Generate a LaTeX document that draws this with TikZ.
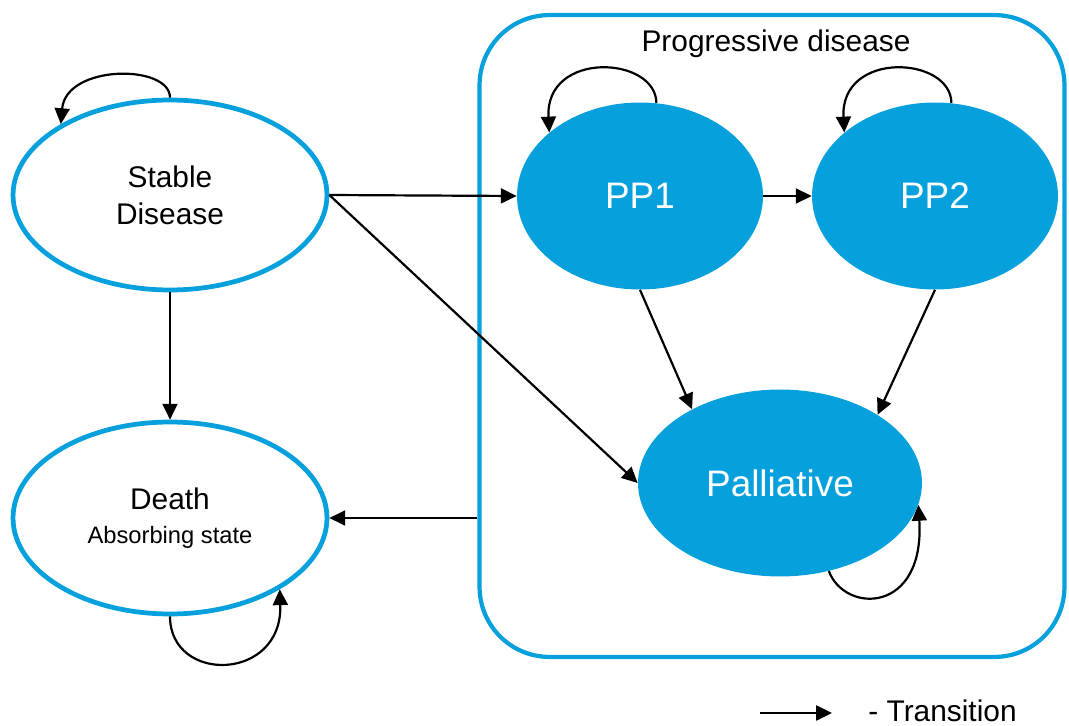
\documentclass[tikz,border=0pt]{standalone}
\usepackage{fontspec}
\setmainfont{Liberation Sans}
\usetikzlibrary{arrows.meta,shapes.geometric}
\definecolor{pdblue}{RGB}{6,160,221}
\newcommand{\clrone}{pdblue}
\newcommand{\clrtwo}{black}

\begin{document}
\begin{tikzpicture}[x=0.02cm, y=-0.02cm,
    state/.style={ellipse, draw=\clrone, line width=2.7pt, fill=white, align=center, font=\fontsize{17}{21}\selectfont},
    pstate/.style={ellipse, fill=\clrone, text=white, font=\fontsize{21}{25}\selectfont},
    trans/.style={-{Triangle[length=9pt,width=8.5pt]}, line width=1.25pt, \clrtwo}]

    \useasboundingbox (0,0) rectangle (1069,726);

    \node[draw=\clrone, line width=2.4pt, rounded corners=1.4cm, minimum width=11.7cm, minimum height=12.84cm] (pd) at (772,336) {};
    \node[font=\fontsize{17}{21}\selectfont] (pdl) at (776,44) {Progressive disease};

    \node[state, minimum width=6.28cm, minimum height=3.8cm] (sd) at (170,195) {Stable\\Disease};
    \node[state, minimum width=6.28cm, minimum height=3.84cm] (death) at (170,518) {Death\\[-2pt]{\fontsize{13.5}{16}\selectfont Absorbing state}};
    \node[pstate, minimum width=4.92cm, minimum height=3.74cm] (pp1) at (640,196) {PP1};
    \node[pstate, minimum width=4.92cm, minimum height=3.74cm] (pp2) at (935,196) {PP2};
    \node[pstate, minimum width=5.68cm, minimum height=3.74cm] (pal) at (780,483) {Palliative};

    \draw[trans] (sd.east) -- (pp1.west);
    \draw[trans] (sd.east) -- (pal.west);
    \draw[trans] (sd.south) -- (death.north);
    \draw[trans] (pp1.east) -- (pp2.west);
    \draw[trans] (pp1.south) -- (pal.140);
    \draw[trans] (pp2.south) -- (pal.35);
    \draw[trans] (pd.west |- death) -- (death.east);

    \draw[trans] (sd.north) .. controls (170,64) and (66,64) .. (sd.147);
    \draw[trans] (death.south) .. controls (170,684) and (283,682) .. (death.-33);
    \draw[trans] (pp1.80) .. controls (656,56) and (545,50) .. (pp1.145);
    \draw[trans] (pp2.80) .. controls (951,56) and (840,50) .. (pp2.145);
    \draw[trans] (pal.-61) .. controls (845,614) and (925,614) .. (pal.-9);

    \coordinate (lga) at (760,713);
    \coordinate (lgb) at (832,713);
    \draw[trans] (lga) -- (lgb);
    \node[font=\fontsize{17}{21}\selectfont, anchor=base west, inner sep=0pt] (leg) at (868,721) {- Transition};

\end{tikzpicture}
\end{document}
